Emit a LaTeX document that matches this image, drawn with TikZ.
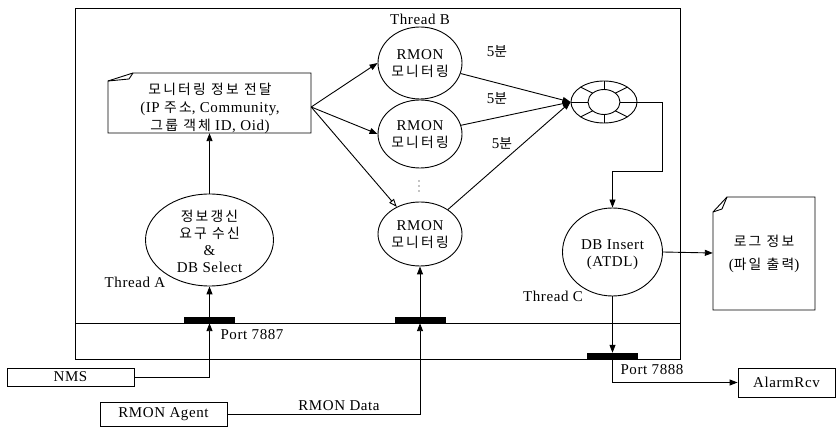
\documentclass[tikz,border=0pt]{standalone}
\usepackage{fontspec}
\setmainfont{Liberation Serif}[LetterSpace=4]
\newfontfamily\krfont{Noto Sans CJK KR}[Scale=0.92,LetterSpace=16]
\newcommand\hk[1]{{\krfont #1}}
\usetikzlibrary{arrows.meta,shapes.geometric,calc}
\begin{document}
\begin{tikzpicture}[x=1pt,y=-1pt,
  every node/.style={font=\fontsize{15}{17}\selectfont},
  ln/.style={line width=0.9pt},
  arr/.style={ln,-{Triangle[length=8pt,width=6pt]}},
  oarr/.style={ln,-{Triangle[open,length=8pt,width=6pt]}},
  ell/.style={ellipse,draw,ln,inner sep=0pt},
  portbar/.style={fill=black,minimum width=51pt,minimum height=6pt,inner sep=0pt},
  box/.style={draw,ln,inner sep=0pt},
  txt/.style={align=center,inner sep=0pt}
]
\useasboundingbox (0,0) rectangle (836,427);
\fill[white] (0,0) rectangle (836,427);

% outer frame and port line
\node[box, minimum width=605pt, minimum height=351pt] (frame) at (377.5,183.5) {};
\coordinate (pl) at (75,323);
\coordinate (pr) at (680,323);
\draw[ln] (pl) -- (pr);

% ports
\node[portbar] (p1) at (209.5,320) {};
\node[portbar] (p2) at (420,320) {};
\node[portbar] (p3) at (612.5,356) {};

% document: monitoring info
\node[minimum width=203pt,minimum height=60pt,inner sep=0pt] (doc) at (209.5,103) {};
\draw[ln] (108,133) -- (108,81) -- (133,73) -- (311,73) -- (311,133) -- cycle;
\draw[ln] (133,73) -- (129,79) -- (108,81);
\node[txt,font=\fontsize{15}{18}\selectfont] (doct) at (210,108) {\hk{모니터링 정보 전달}\\(IP \hk{주소}, Community,\\\hk{그룹 객체} ID, Oid)};

% Thread A
\node[ell,minimum width=128pt,minimum height=92pt] (tA) at (209.5,240) {};
\node[txt] (tAt) at (209.5,241) {\hk{정보갱신}\\\hk{요구 수신}\\\&\\DB Select};
\node (tAl) at (135,282) {Thread A};

% Thread B
\node (tBl) at (420,19) {Thread B};
\node[ell,minimum width=84pt,minimum height=72pt] (r1) at (420,63) {};
\node[txt] (r1t) at (420,64) {RMON\\\hk{모니터링}};
\node[ell,minimum width=84pt,minimum height=68pt] (r2) at (420,134) {};
\node[txt] (r2t) at (420,135) {RMON\\\hk{모니터링}};
\node[ell,minimum width=84pt,minimum height=64pt] (r3) at (420,234) {};
\node[txt] (r3t) at (420,235) {RMON\\\hk{모니터링}};
\foreach \y in {181,186,191} \fill (419,\y) circle (0.7pt);

% ring buffer
\node[ell,minimum width=66pt,minimum height=42pt] (ring) at (604,102) {};
\node[ell,minimum width=32pt,minimum height=25pt] (ringin) at (604,102) {};
\foreach \a in {0,45,...,315}
  \draw[ln] ($(ring.center)+({16*cos(\a)},{12.5*sin(\a)})$) -- ($(ring.center)+({33*cos(\a)},{21*sin(\a)})$);

% 5 min labels
\node (m1) at (497,51) {5\hk{분}};
\node (m2) at (497,98) {5\hk{분}};
\node (m3) at (502,143) {5\hk{분}};

% Thread C
\node[ell,minimum width=100pt,minimum height=88pt] (tC) at (612.5,252) {};
\node[txt] (tCt) at (612.5,255) {DB Insert\\(ATDL)};
\node (tCl) at (553,296) {Thread C};

% log document
\node[minimum width=102pt,minimum height=114pt,inner sep=0pt] (log) at (764,253) {};
\draw[ln] (713,310) -- (713,212) -- (727,197) -- (815,197) -- (815,310) -- cycle;
\draw[ln] (727,197) -- (722,209) -- (713,212);
\node[txt,font=\fontsize{15}{23}\selectfont] (logt) at (764,254) {\hk{로그 정보}\\(\hk{파일 출력})};

% external boxes
\node[box,minimum width=127pt,minimum height=18pt] (nms) at (70.5,377) {NMS};
\node[box,minimum width=127pt,minimum height=24pt] (agent) at (163.5,414) {RMON Agent};
\node[box,minimum width=97pt,minimum height=29pt] (alarm) at (786.5,382.5) {AlarmRcv};

% labels
\node (l7887) at (252,335) {Port 7887};
\node (l7888) at (652,370) {Port 7888};
\node (lrd) at (339,406) {RMON Data};

% connectors
\coordinate (docE) at ($(doc.east)+(0,4)$);
\draw[arr] (nms.east) -| (p1.south);
\draw[arr] (p1.north) -- (tA.south);
\draw[arr] (tA.north) -- (doc.south);
\draw[arr] (docE) -- (r1.west);
\draw[arr] (docE) -- (r2.west);
\draw[oarr] (docE) -- (r3);
\draw[arr] (r1) -- (ring.west);
\draw[arr] (r2) -- (ring.west);
\draw[arr] (r3) -- (ring.west);
\coordinate (c1) at (662,171);
\draw[arr] (ring.east) -| (c1) -| (tC.north);
\draw[arr] (tC.east) -- (log.west);
\draw[arr] (tC.south) -- (p3.north);
\draw[arr] (p3.south) |- (alarm.west);
\draw[arr] (agent.east) -| (p2.south);
\draw[arr] (p2.north) -- (r3.south);
\end{tikzpicture}
\end{document}
